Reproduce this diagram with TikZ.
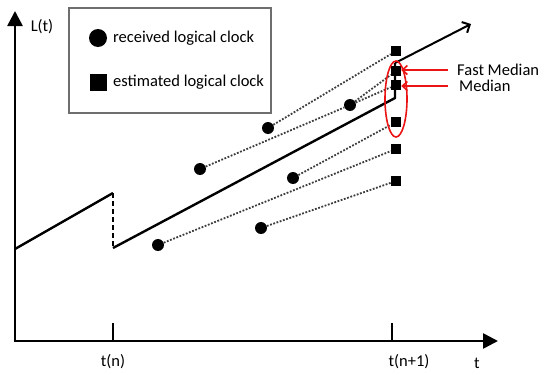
\documentclass[tikz,border=0pt]{standalone}
\usepackage{fontspec}
\setmainfont{Carlito}
\usepackage{tikz}
\usetikzlibrary{arrows.meta,positioning,shapes.geometric}
\definecolor{markred}{RGB}{235,20,20}
\definecolor{dotgrey}{RGB}{60,60,60}
\definecolor{boxgrey}{RGB}{110,110,110}

\begin{document}
\begin{tikzpicture}[x=1pt,y=-1pt,
  font=\fontsize{16.5}{19}\selectfont,
  axis/.style={line width=2.6pt,-{Triangle[length=15pt,width=15pt]}},
  clk/.style={line width=2.4pt},
  rcv/.style={circle,fill=black,inner sep=0pt,minimum size=12pt},
  est/.style={rectangle,fill=black,inner sep=0pt,minimum size=10pt},
  link/.style={line width=1.8pt,draw=dotgrey,dash pattern=on 1.8pt off 1.6pt},
  redarr/.style={draw=markred,line width=1.6pt,-{Straight Barb[length=5pt,width=9pt]}},
  lbl/.style={inner sep=0pt}]

\useasboundingbox (0,0) rectangle (550,375);

\coordinate (o) at (15,341);
\coordinate (ytop) at (15,11);
\coordinate (xend) at (498,341);

\node[draw=boxgrey,line width=1.3pt,minimum width=202pt,minimum height=105pt] (leg) at (170,60.5) {};
\node[rcv,minimum size=18pt] (legc) at (98,38) {};
\node[est,minimum size=17pt] (legs) at (98,82) {};
\node[lbl,anchor=west] (legct) at (113,38) {received logical clock};
\node[lbl,anchor=west] (legst) at (113,82) {estimated logical clock};

\node[rcv] (r1) at (268,128) {};
\node[rcv] (r2) at (200,169) {};
\node[rcv] (r3) at (350,105) {};
\node[rcv] (r4) at (293,178) {};
\node[rcv] (r5) at (158,245) {};
\node[rcv] (r6) at (261,228) {};

\node[est] (s1) at (396,51) {};
\node[est] (s2) at (396,71) {};
\node[est] (s3) at (396,85) {};
\node[est] (s4) at (396,122) {};
\node[est] (s5) at (396,149) {};
\node[est] (s6) at (396,181) {};

\draw[link] (r1) -- (s1);
\draw[link] (r2) -- (r3) -- (s3);
\draw[link] (r3) -- (s2);
\draw[link] (r4) -- (s4);
\draw[link] (r5) -- (s5);
\draw[link] (r6) -- (s6);

\coordinate (a0) at (15,249);
\coordinate (a1) at (113,193);
\coordinate (a2) at (113,248);
\coordinate (a3) at (395,98);
\coordinate (a4) at (395,63);
\coordinate (a5) at (471,24);

\draw[clk] (a0) -- (a1);
\draw[clk,dash pattern=on 5pt off 3pt] (a1) -- (a2);
\draw[clk,line join=round] (a2) -- (a3) -- (a4);
\draw[line width=2pt,-{Straight Barb[length=6pt,width=12pt]}] (a4) -- (a5);

\draw[axis] ([yshift=1.3pt]o) -- (ytop);
\draw[axis] ([xshift=-1.3pt]o) -- (xend);

\coordinate (tk1) at (113,341);
\coordinate (tk2) at (392,341);
\draw[line width=2pt] (tk1) -- ++(0,-18);
\draw[line width=2pt] (tk2) -- ++(0,-18);

\node (lt) at (42,27) {L(t)};
\node (tn) at (113,362) {t(n)};
\node (tn1) at (409,362) {t(n+1)};
\node (tt) at (477,363) {t};

\node[draw=markred,line width=1.6pt,ellipse,minimum width=22pt,minimum height=76pt] (oval) at (396,99) {};

\node[lbl,anchor=west] (fast) at (457,70) {Fast Median};
\node[lbl,anchor=west] (med) at (459,86) {Median};
\draw[redarr,shorten <=9pt] (fast.west) -- (fast.west -| s2.east);
\draw[redarr,shorten <=11pt] (med.west) -- (med.west -| s3.east);
\end{tikzpicture}
\end{document}
